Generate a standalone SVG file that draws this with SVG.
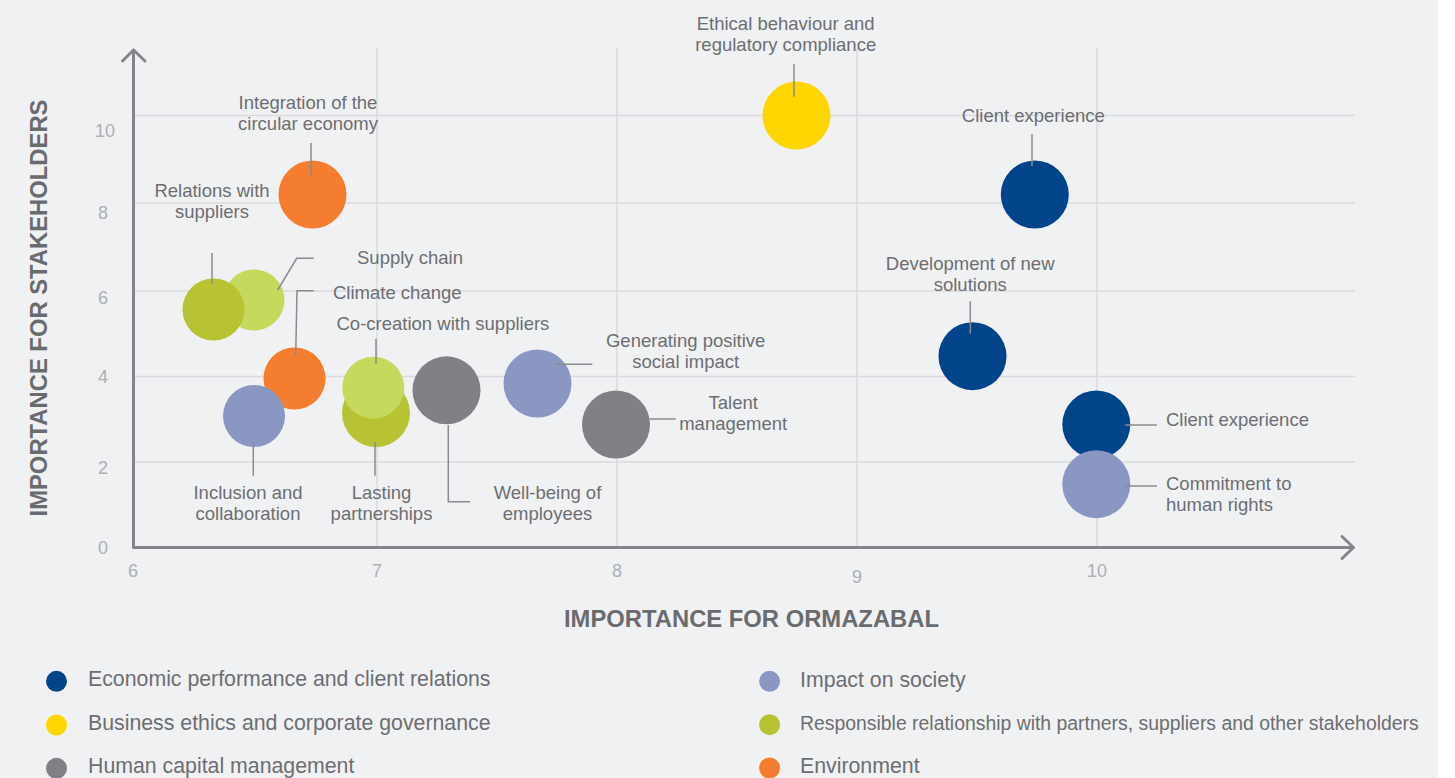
<svg xmlns="http://www.w3.org/2000/svg" width="1455" height="778" viewBox="0 0 1455 778">
<defs>
<style>
.bg{fill:#f0f1f3}
.grid{stroke:#d9dadd;stroke-width:1.5;fill:none}
.axis{stroke:#848588;stroke-width:3;fill:none;stroke-linecap:round;stroke-linejoin:round}
.tick{font-family:"Liberation Sans",Arial,sans-serif;font-size:18px;fill:#aeafb2}
.title{font-family:"Liberation Sans",Arial,sans-serif;font-size:23.8px;font-weight:bold;fill:#6a6b6e}
.lbl{font-family:"Liberation Sans",Arial,sans-serif;font-size:18.5px;fill:#6d6e71}
.lbl.c{text-anchor:middle}
.leg{font-family:"Liberation Sans",Arial,sans-serif;font-size:21.3px;fill:#6d6e71}
.leg.narrow{font-size:19.4px}
.lead{stroke:#8a8b8e;stroke-width:1.5;fill:none}
.navy{fill:#00458a}
.yellow{fill:#ffd600}
.gray{fill:#808184}
.bluegrey{fill:#8a97c3}
.dgreen{fill:#b8c333}
.lgreen{fill:#c5d95d}
.orange{fill:#f47d30}
</style>
</defs>
<rect x="0" y="0" width="1455" height="778" fill="#ffffff"/>
<rect class="bg" x="0" y="0" width="1438" height="778"/>

<g id="grid">
<line class="grid" x1="133" y1="115.5" x2="1355" y2="115.5"/>
<line class="grid" x1="133" y1="203" x2="1355" y2="203"/>
<line class="grid" x1="133" y1="291" x2="1355" y2="291"/>
<line class="grid" x1="133" y1="376.5" x2="1355" y2="376.5"/>
<line class="grid" x1="133" y1="462" x2="1355" y2="462"/>
<line class="grid" x1="377" y1="48" x2="377" y2="547"/>
<line class="grid" x1="617" y1="48" x2="617" y2="547"/>
<line class="grid" x1="857" y1="48" x2="857" y2="547"/>
<line class="grid" x1="1097" y1="48" x2="1097" y2="547"/>
</g>

<g id="axes">
<polyline class="axis" points="133.5,50 133.5,547.5 1353,547.5"/>
<polyline class="axis" points="122.5,61 133.5,50 145,61"/>
<polyline class="axis" points="1342,536.5 1353.5,547.5 1342,558.5"/>
<text class="tick" x="115" y="137" text-anchor="end">10</text>
<text class="tick" x="108" y="218.5" text-anchor="end">8</text>
<text class="tick" x="108" y="304" text-anchor="end">6</text>
<text class="tick" x="108" y="383" text-anchor="end">4</text>
<text class="tick" x="108" y="474" text-anchor="end">2</text>
<text class="tick" x="108" y="553.5" text-anchor="end">0</text>
<text class="tick" x="133" y="577" text-anchor="middle">6</text>
<text class="tick" x="377" y="577" text-anchor="middle">7</text>
<text class="tick" x="617" y="577" text-anchor="middle">8</text>
<text class="tick" x="857" y="583" text-anchor="middle">9</text>
<text class="tick" x="1097" y="577" text-anchor="middle">10</text>
<text class="title" x="751.5" y="627" text-anchor="middle">IMPORTANCE FOR ORMAZABAL</text>
<text class="title" transform="translate(46.5,308) rotate(-90)" text-anchor="middle">IMPORTANCE FOR STAKEHOLDERS</text>
</g>

<g id="nodes">
<g id="n-integration"><circle class="orange" cx="312.5" cy="194.5" r="34"/>
<text class="lbl c" x="308" y="108.5">Integration of the</text>
<text class="lbl c" x="308" y="129.5">circular economy</text></g>
<g id="n-supply-chain"><circle class="lgreen" cx="254" cy="300" r="30.5"/>
<text class="lbl" x="357" y="263.5">Supply chain</text></g>
<g id="n-relations"><circle class="dgreen" cx="213.5" cy="309.5" r="31"/>
<text class="lbl c" x="212" y="196.5">Relations with</text>
<text class="lbl c" x="212" y="217.5">suppliers</text></g>
<g id="n-climate"><circle class="orange" cx="294.5" cy="378.5" r="31"/>
<text class="lbl" x="333" y="298.5">Climate change</text></g>
<g id="n-inclusion"><circle class="bluegrey" cx="254" cy="416" r="31"/>
<text class="lbl c" x="248" y="498.5">Inclusion and</text>
<text class="lbl c" x="248" y="520">collaboration</text></g>
<g id="n-lasting"><circle class="dgreen" cx="376" cy="413" r="34"/>
<text class="lbl c" x="381.5" y="498.5">Lasting</text>
<text class="lbl c" x="381.5" y="520">partnerships</text></g>
<g id="n-cocreation"><circle class="lgreen" cx="373.3" cy="387.7" r="31"/>
<text class="lbl" x="336.5" y="330">Co-creation with suppliers</text></g>
<g id="n-wellbeing"><circle class="gray" cx="446.5" cy="390.3" r="34"/>
<text class="lbl c" x="547.5" y="498.5">Well-being of</text>
<text class="lbl c" x="547.5" y="520">employees</text></g>
<g id="n-generating"><circle class="bluegrey" cx="537.5" cy="383.5" r="34"/>
<text class="lbl c" x="685.7" y="346.7">Generating positive</text>
<text class="lbl c" x="685.7" y="367.7">social impact</text></g>
<g id="n-talent"><circle class="gray" cx="616" cy="424.5" r="34"/>
<text class="lbl c" x="733.2" y="409.3">Talent</text>
<text class="lbl c" x="733.2" y="430">management</text></g>
<g id="n-ethical"><circle class="yellow" cx="796.5" cy="115.5" r="34"/>
<text class="lbl c" x="785.7" y="30">Ethical behaviour and</text>
<text class="lbl c" x="785.7" y="51">regulatory compliance</text></g>
<g id="n-client1"><circle class="navy" cx="1034.8" cy="194.5" r="34"/>
<text class="lbl c" x="1033.3" y="122.3">Client experience</text></g>
<g id="n-development"><circle class="navy" cx="972.5" cy="356.2" r="34"/>
<text class="lbl c" x="970.2" y="270">Development of new</text>
<text class="lbl c" x="970.2" y="291">solutions</text></g>
<g id="n-client2"><circle class="navy" cx="1096.3" cy="424.5" r="34"/>
<text class="lbl" x="1166" y="426">Client experience</text></g>
<g id="n-commitment"><circle class="bluegrey" cx="1096.3" cy="484.2" r="34"/>
<text class="lbl" x="1166" y="490">Commitment to</text>
<text class="lbl" x="1166" y="511">human rights</text></g>
</g>

<g id="connectors">
<line class="lead" x1="311" y1="143" x2="311" y2="176"/>
<line class="lead" x1="212" y1="253" x2="212" y2="284"/>
<polyline class="lead" points="277.7,290 296.7,258.3 313.7,258.3"/>
<polyline class="lead" points="295.7,356 297,290.7 313.7,290.7"/>
<line class="lead" x1="376" y1="339" x2="376" y2="364"/>
<line class="lead" x1="253.3" y1="442" x2="253.3" y2="475.7"/>
<line class="lead" x1="375" y1="442" x2="375" y2="475.7"/>
<polyline class="lead" points="448.3,425 448.3,501.7 470,501.7"/>
<line class="lead" x1="555" y1="364.3" x2="592.3" y2="364.3"/>
<line class="lead" x1="650" y1="419" x2="675.7" y2="419"/>
<line class="lead" x1="794" y1="64" x2="794" y2="96.7"/>
<line class="lead" x1="1032" y1="134" x2="1032" y2="166"/>
<line class="lead" x1="970.3" y1="301.3" x2="970.3" y2="333.7"/>
<line class="lead" x1="1125.3" y1="425" x2="1157" y2="425"/>
<line class="lead" x1="1125.3" y1="486" x2="1157" y2="486"/>
</g>

<g id="legend">
<circle class="navy" cx="56.5" cy="681.3" r="10.5"/>
<text class="leg" x="88" y="686">Economic performance and client relations</text>
<circle class="yellow" cx="56.5" cy="725" r="10.5"/>
<text class="leg" x="88" y="730">Business ethics and corporate governance</text>
<circle class="gray" cx="56.5" cy="768.3" r="10.5"/>
<text class="leg" x="88" y="773.3">Human capital management</text>
<circle class="bluegrey" cx="769.6" cy="681.3" r="10.5"/>
<text class="leg" x="800" y="686.7">Impact on society</text>
<circle class="dgreen" cx="769.6" cy="724.7" r="10.5"/>
<text class="leg narrow" x="800" y="730">Responsible relationship with partners, suppliers and other stakeholders</text>
<circle class="orange" cx="769.6" cy="768" r="10.5"/>
<text class="leg" x="800" y="773.3">Environment</text>
</g>
</svg>
